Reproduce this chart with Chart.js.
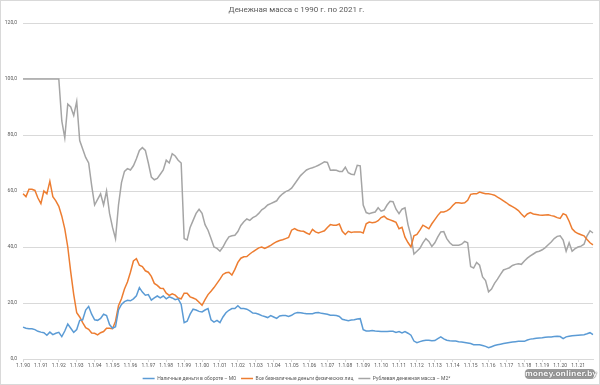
<!DOCTYPE html>
<html>
<head>
<meta charset="utf-8">
<script src="https://cdn.jsdelivr.net/npm/chart.js@4/dist/chart.umd.min.js"></script>
<style>
  html, body { margin: 0; padding: 0; background: #ffffff; overflow: hidden; }
  #wrap { position: absolute; left: 0; top: 0; width: 600px; height: 388px; }
  #frame { position: absolute; left: 0; top: 0; width: 598px; height: 383px; border: 1px solid #d9d9d9; pointer-events: none; }
  #wm { position: absolute; left: 525px; top: 369px; width: 70px; height: 10px; background: #9a9a9a; border-radius: 4px;
        font-family: "DejaVu Sans", sans-serif; font-weight: bold; font-size: 7.5px; line-height: 10px; color: #f4f4f4; text-align: center;
        text-shadow: 0 0 1px #666, 0 0 1px #666; }
</style>
</head>
<body>
<div id="wrap"><canvas id="c" width="600" height="388"></canvas></div>
<div id="frame"></div>
<div id="wm">money.onliner.by</div>
<script>
// Bimonthly observations, Jan 1990 .. Nov 2021 (192 points each)
const years = [];
for (let y = 1990; y <= 2021; y++) years.push(y);
const months = [1, 3, 5, 7, 9, 11];
const categories = [];
years.forEach(y => months.forEach(m => categories.push('1.' + m + '.' + String(y % 100).padStart(2, '0'))));

const seriesNames = [
  'Наличные деньги в обороте – М0',
  'Все безналичные деньги физических лиц',
  'Рублевая денежная масса – М2*'
];

const m0 = [
  11.4,11,10.8,10.8,10.5,9.9,9.6,9.4,8.5,9.6,8.7,9.2,
  9.5,8,10,12.5,11,9.5,10.5,13.8,14,17.5,18.8,16,
  14,13.8,14.5,16,15.5,12.3,11,11.5,17.5,19.5,20.5,21,
  20.8,21.5,22.6,25.5,23.9,22.8,23,21,21.8,22.5,21.8,22.5,
  21.5,22.2,21.8,21.2,21.5,19.5,13,13.5,16,17.8,17.5,17,
  16.8,17.5,18,14,13.2,13.8,13,15,16.5,17.4,18,18,
  19,18,18,17.8,17.2,16.4,16.3,16,15.5,15.2,14.8,15.5,
  15,14.5,15.4,15.5,15.5,15.2,15.6,16.3,16.6,16.5,16.3,16.2,
  16.2,16.2,16.5,16.6,16.3,16.2,16,15.6,15.6,15.5,15.2,14.2,
  13.9,13.7,13.9,14,14.3,14.4,10.5,10,10,10.2,10,9.9,
  9.8,9.8,9.8,9.9,9.9,9.5,9.8,9.3,9.8,9.2,8.5,6.4,
  5.8,6.2,6.5,6.7,6.7,6.5,6.6,7.3,7.9,7.2,6.7,6.5,
  6.4,6.4,6.2,6.1,5.9,5.7,5.5,5.1,5.1,5.1,4.8,4.5,
  4,4.4,4.8,5.1,5.3,5.5,5.7,5.9,6.1,6.2,6.3,6.3,
  6.3,6.8,7.1,7.2,7.4,7.5,7.6,7.8,7.9,7.9,8,8.1,
  8,7.3,7.9,8.1,8.3,8.4,8.5,8.6,8.7,9,9.4,8.7
];

const beznal = [
  59,58,60.6,60.6,60.2,57.5,55.5,60,59,63.5,58,56.5,
  54.5,51,46.5,40,31,23,16.5,15,13,11.2,10.6,9.3,
  9.2,8.6,9.4,9.8,11,11,10.8,13.5,19,21.5,25,27.5,
  31,35,35.8,33.5,33,31.5,31,29.5,27,26.3,25.3,25.2,
  23.5,22.7,23.3,22.8,21.8,21.5,23.5,23.5,22.2,21.8,21.3,20.3,
  19.2,21.2,23,24.2,25.5,27,28.5,30.2,30.8,31,30,32,
  34.5,36,36.5,36.6,37.5,38.3,39,39.7,40,39.5,40,40.6,
  41.3,41.9,42.3,42.6,43,43.4,46,46.6,46,45.7,45.6,45,
  44.5,46.3,45.4,45,45.4,45.8,47,48,47.8,47.8,48.2,45.6,
  44.5,45.6,45.2,45.4,45.4,45.4,45,48.3,48.9,48.7,48.8,49.4,
  50.5,51,50.1,49.7,49.3,48.8,46.5,47,43.5,41.6,40,44,
  44.5,46,47.8,47.2,46.5,48.3,49.8,51.3,52.5,52.5,52.9,53.6,
  54.8,55.8,55.8,55.6,55.8,56.7,58.8,59,59,59.6,59.3,59,
  59,58.8,58.5,57.8,57.2,56.5,55.8,55,54.4,53.8,53,51.8,
  50.7,51.8,52.3,51.8,51.6,51.4,51.3,51.4,51.5,51.2,51,50.5,
  50.2,51.9,51.4,49.2,46.5,45.4,44.8,44.4,44,42.7,41.5,40.8
];

const m2 = [
  100,100,100,100,100,100,100,100,100,100,100,100,
  100,85,79,91,90,87,92,78,75,72,70,62,
  55,57,59,55,60,52,47,43,55,63,67,68,
  67.5,69,71.5,74.5,75.5,74.5,70,65,64,64.5,66,67.5,
  71,70,73.3,72.5,71,70,43,42.5,47,49.5,52,53.5,
  52,48,46,43,40,39.5,38.5,40,42,43.6,44,44.2,
  45.5,47.7,49,50,49.5,50.5,51,52,53.3,54,55,55.5,
  56,56.5,58,59,59.8,60.2,61,62.5,64,65.5,66.5,67.5,
  68,68.3,68.7,69.2,69.8,70.4,70.2,67.4,67.5,67.4,67,67,
  68.5,66.5,66,65.8,69.2,69,55,52.3,51.9,52.2,52.5,54,
  52.8,53.2,55,56.3,56.2,53.5,51.9,53.5,54,48,44,37.5,
  38.5,39.5,41.5,43,42,40.2,41.5,43.6,45.4,45.5,43,41.5,
  40.6,40.6,40.6,41,42,41.5,33,32.5,34.5,33.5,29.3,28,
  24,25,27,28.5,30.2,31.8,32.2,32.6,33.4,33.8,34,33.8,
  35,36,36.8,37.5,38.2,38.5,39,39.8,40.8,41.8,43,43.8,
  44,42.5,38.5,41.5,38.5,39.4,40,40.3,41,44,45.8,45
];

const yTicks = { min: 0, max: 120, step: 20 };
const titleText = 'Денежная масса с 1990 г. по 2021 г.';

const textColor = '#595959';
const gridColor = '#d9d9d9';
const FONT = 'Roboto, "Noto Sans", sans-serif';

function ds(label, data, color) {
  return { label, data, borderColor: color, backgroundColor: color, borderWidth: 1.5,
           pointRadius: 0, tension: 0, fill: false };
}

new Chart(document.getElementById('c'), {
  type: 'line',
  data: {
    labels: categories,
    datasets: [
      ds(seriesNames[0], m0, '#5b9bd5'),
      ds(seriesNames[1], beznal, '#ed7d31'),
      ds(seriesNames[2], m2, '#a5a5a5')
    ]
  },
  options: {
    responsive: false,
    animation: false,
    layout: { padding: { left: 0, right: 7, top: 0, bottom: -3 } },
    plugins: {
      title: { display: true, text: titleText, color: textColor,
               font: { family: FONT, size: 8, weight: 'normal' },
               padding: { top: 5, bottom: 8.4 } },
      legend: { position: 'bottom',
                labels: { usePointStyle: true, pointStyle: 'line', pointStyleWidth: 12,
                          font: { family: FONT, size: 5 }, color: textColor, padding: 5 } },
      tooltip: { enabled: false }
    },
    scales: {
      x: {
        type: 'category',
        offset: false,
        grid: { display: true, drawOnChartArea: false, drawTicks: true, tickLength: 3,
                tickColor: c => (c.index % 6 === 0 ? gridColor : 'rgba(0,0,0,0)') },
        border: { display: true, color: gridColor },
        ticks: { autoSkip: false, maxRotation: 0, minRotation: 0, padding: 1,
                 color: textColor, font: { family: FONT, size: 5 },
                 callback: function (v, i) { return i % 6 === 0 ? categories[i] : ''; } },
        afterFit: s => { s.height = 12; }
      },
      y: {
        min: yTicks.min, max: yTicks.max,
        grid: { color: gridColor, drawTicks: false, lineWidth: 1 },
        border: { display: false },
        ticks: { stepSize: yTicks.step, padding: 6, color: textColor, font: { family: FONT, size: 5 },
                 callback: v => v.toFixed(1).replace('.', ',') },
        afterFit: s => { s.width = 23; }
      }
    }
  }
});
</script>
</body>
</html>
